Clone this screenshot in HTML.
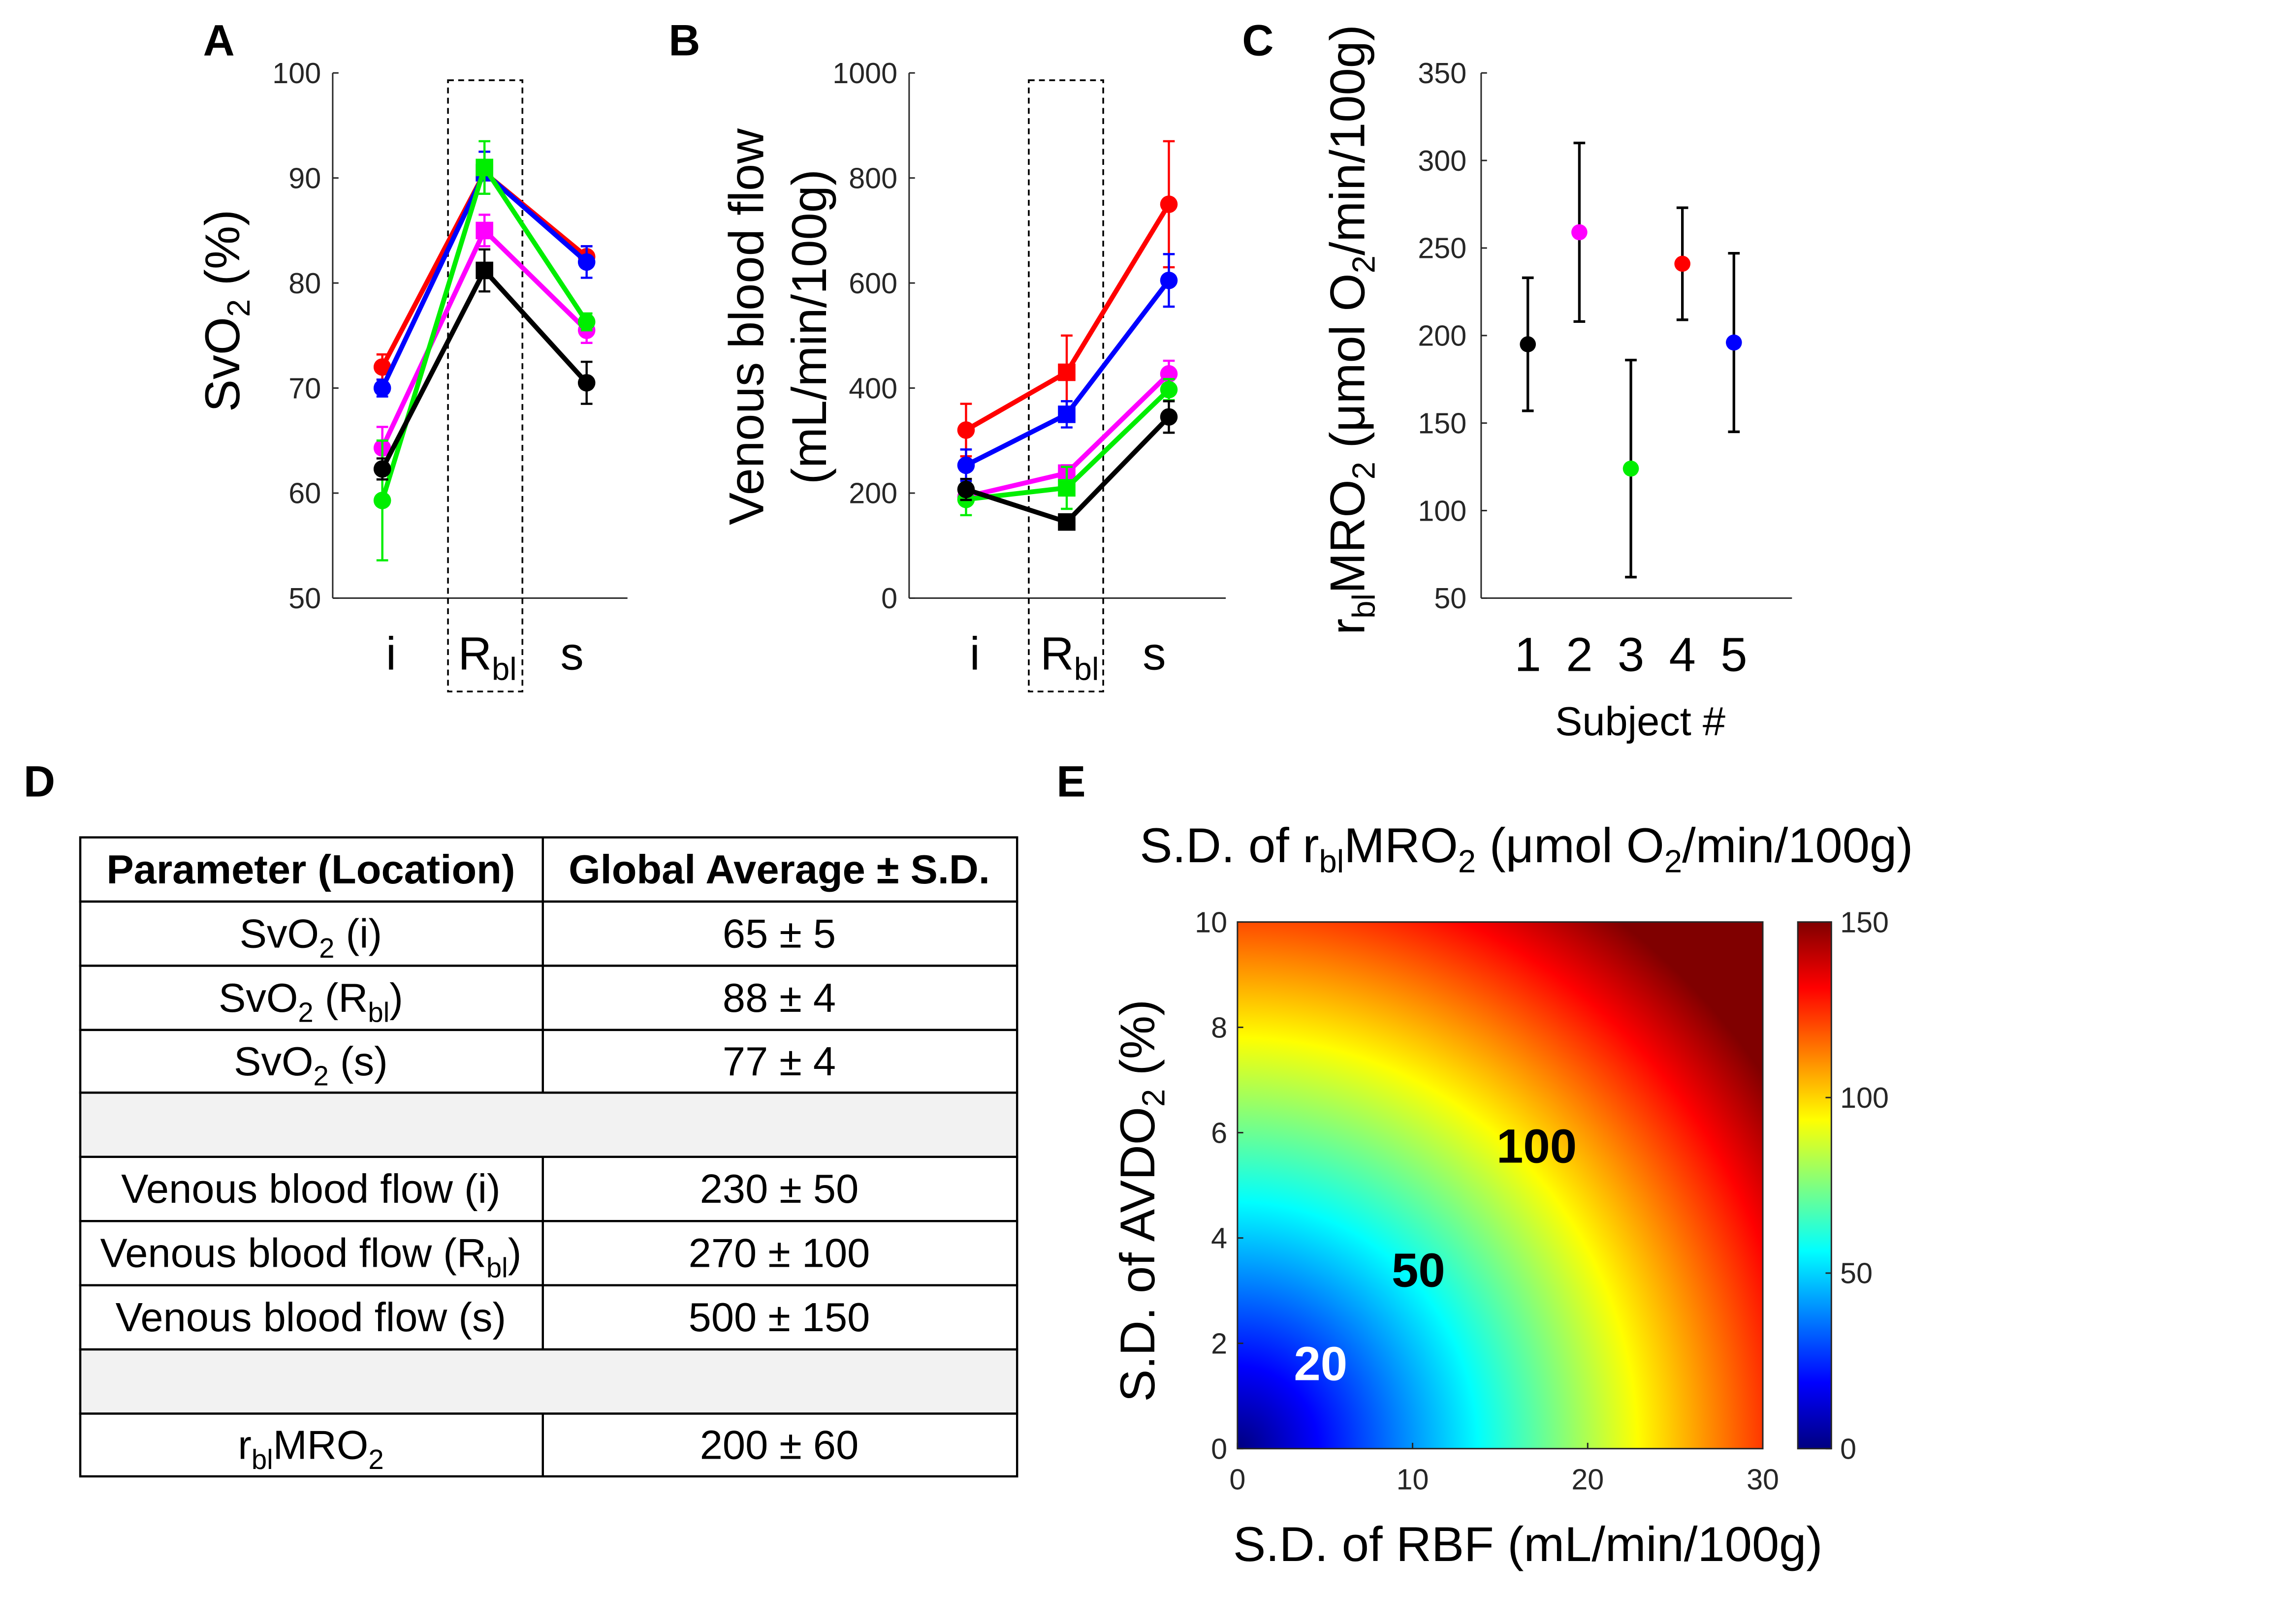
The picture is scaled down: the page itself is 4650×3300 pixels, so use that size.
<!DOCTYPE html>
<html><head><meta charset="utf-8"><style>
html,body{margin:0;padding:0;background:#fff;}
#wrap{position:relative;width:4650px;height:3300px;overflow:hidden;}
#hm{position:absolute;}
#main{position:absolute;left:0;top:0;}
text{font-family:"Liberation Sans",sans-serif;}
</style></head><body>
<div id="wrap">
<canvas id="hm" width="1067" height="1070"></canvas>
<svg id="main" width="4650" height="3300" viewBox="0 0 1568.6 1113.2" xmlns="http://www.w3.org/2000/svg">
<defs>
<linearGradient id="jet" x1="0" y1="1" x2="0" y2="0">
<stop offset="0" stop-color="#000080"/><stop offset="0.125" stop-color="#0000ff"/>
<stop offset="0.375" stop-color="#00ffff"/><stop offset="0.625" stop-color="#ffff00"/>
<stop offset="0.875" stop-color="#ff0000"/><stop offset="1" stop-color="#800000"/>
</linearGradient>
</defs>
<g id="gA"></g>
<g id="gB"></g>
<g id="gC"></g>
<g id="gD"></g>
<g id="gE"></g>
</svg>
</div>
<script>
// ---------- data ----------
const categoriesAB = ["i", "Rbl", "s"];
const seriesColors = ["#ff0000", "#0000ff", "#ff00ff", "#00ee00", "#000000"];
const svo2Red = [72, 90.5, 82.5];     const svo2RedErr = [1.2, 2, 1];
const svo2Blue = [70, 90.5, 82];      const svo2BlueErr = [0.8, 2, 1.5];
const svo2Magenta = [64.3, 85, 75.5]; const svo2MagentaErr = [2, 1.5, 1.2];
const svo2Green = [59.3, 91, 76.3];   const svo2GreenErr = [5.7, 2.5, 0.8];
const svo2Black = [62.3, 81.2, 70.5]; const svo2BlackErr = [1, 2, 2];
const svo2Ticks = [50, 60, 70, 80, 90, 100];
const vbfRed = [320, 430, 750];     const vbfRedErr = [50, 70, 120];
const vbfBlue = [253, 350, 605];    const vbfBlueErr = [30, 25, 50];
const vbfMagenta = [193, 238, 427]; const vbfMagentaErr = [10, 15, 25];
const vbfGreen = [188, 210, 397];   const vbfGreenErr = [30, 40, 20];
const vbfBlack = [207, 145, 345];   const vbfBlackErr = [20, 8, 30];
const vbfTicks = [0, 200, 400, 600, 800, 1000];
const subjects = ["1", "2", "3", "4", "5"];
const mroValues = [195, 259, 124, 241, 196];
const mroErr = [38, 51, 62, 32, 51];
const mroColors = ["#000000", "#ff00ff", "#00ee00", "#ff0000", "#0000ff"];
const mroTicks = [50, 100, 150, 200, 250, 300, 350];
const hmXTicks = [0, 10, 20, 30];
const hmYTicks = [0, 2, 4, 6, 8, 10];
const cbTicks = [0, 50, 100, 150];
const hmCoefRBF = 4.1;   // contribution per unit S.D. RBF
const hmCoefAVDO2 = 12;  // contribution per unit S.D. AVDO2

const SC = 4650/1568.6;
const TICK = 20, LAB = 33.5, SUB = 22;
const NS = "http://www.w3.org/2000/svg";
function mk(parent, tag, attrs, txt){
  const e = document.createElementNS(NS, tag);
  for (const k in attrs) e.setAttribute(k, attrs[k]);
  if (txt !== undefined) e.textContent = txt;
  parent.appendChild(e); return e;
}
function linScale(d0,d1,r0,r1){return v => r0 + (v-d0)/(d1-d0)*(r1-r0);}

// ---------- line panel ----------
function linePanel(g, opt){
  const y = linScale(opt.ymin, opt.ymax, 410, 50);
  const x = i => opt.cx[i];
  const labelShift = [6, 2, -10];
  let e = mk(g,'line',{x1:opt.ax,y1:410,x2:opt.axEnd,y2:410,stroke:'#262626','stroke-width':1});
   
  e = mk(g,'line',{x1:opt.ax,y1:50,x2:opt.ax,y2:410,stroke:'#262626','stroke-width':1});
   
  opt.ticks.forEach(t=>{
    mk(g,'line',{x1:opt.ax,y1:y(t),x2:opt.ax+4,y2:y(t),stroke:'#262626'});
    const tt = mk(g,'text',{x:opt.ax-8,y:y(t)+7,'text-anchor':'end','font-size':TICK,fill:'#262626'},String(t));
     
  });
  e = mk(g,'rect',{x:opt.box[0],y:55,width:opt.box[1]-opt.box[0],height:419,fill:'none',stroke:'#000','stroke-width':1.2,'stroke-dasharray':'4,3'});
   
  categoriesAB.forEach((c,i)=>{
    const t = mk(g,'text',{x:x(i)+labelShift[i],y:459,'text-anchor':'middle','font-size':32,fill:'#000'});
    if (c==='Rbl'){ mk(t,'tspan',{},'R'); mk(t,'tspan',{dy:7,'font-size':SUB},'bl'); }
    else t.textContent = c;
     
  });
  opt.series.forEach((s,si)=>{
    const col = seriesColors[si];
    const sg = mk(g,'g',{});
    
    
    const pts = s.v.map((v,i)=>x(i)+','+y(v)).join(' ');
    mk(sg,'polyline',{points:pts,fill:'none',stroke:col,'stroke-width':3.3});
    s.v.forEach((v,i)=>{
      const e1 = s.e[i];
      mk(sg,'line',{x1:x(i),y1:y(v-e1),x2:x(i),y2:y(v+e1),stroke:col,'stroke-width':1.5});
      mk(sg,'line',{x1:x(i)-4,y1:y(v-e1),x2:x(i)+4,y2:y(v-e1),stroke:col,'stroke-width':1.5});
      mk(sg,'line',{x1:x(i)-4,y1:y(v+e1),x2:x(i)+4,y2:y(v+e1),stroke:col,'stroke-width':1.5});
      let m;
      if (i===1) m = mk(sg,'rect',{x:x(i)-6,y:y(v)-6,width:12,height:12,fill:col});
      else m = mk(sg,'circle',{cx:x(i),cy:y(v),r:6,fill:col});
       
    });
  });
}
const gA = document.getElementById('gA');
linePanel(gA,{ymin:50,ymax:100,ax:228,axEnd:430,cx:[262,332,402],box:[307,358],ticks:svo2Ticks,
  series:[{v:svo2Red,e:svo2RedErr},{v:svo2Blue,e:svo2BlueErr},{v:svo2Magenta,e:svo2MagentaErr},{v:svo2Green,e:svo2GreenErr},{v:svo2Black,e:svo2BlackErr}]});
const gB = document.getElementById('gB');
linePanel(gB,{ymin:0,ymax:1000,ax:623,axEnd:840,cx:[662,731,801],box:[705,756],ticks:vbfTicks,
  series:[{v:vbfRed,e:vbfRedErr},{v:vbfBlue,e:vbfBlueErr},{v:vbfMagenta,e:vbfMagentaErr},{v:vbfGreen,e:vbfGreenErr},{v:vbfBlack,e:vbfBlackErr}]});

function label(g,txt,x,y,name){const t=mk(g,'text',{x:x,y:y,'font-size':30,'font-weight':'bold','text-anchor':'middle'},txt);
   }
label(gA,'A',150,38,'panel-label-a'); label(gB,'B',469,38,'panel-label-b');
label(gB,'C',862,38,'panel-label-c'); label(gB,'D',27,546,'panel-label-d'); label(gB,'E',734,546,'panel-label-e');

let t = mk(gA,'text',{transform:'translate(164,213) rotate(-90)','text-anchor':'middle','font-size':LAB});
mk(t,'tspan',{},'SvO'); mk(t,'tspan',{dy:7,'font-size':SUB},'2'); mk(t,'tspan',{dy:-7},' (%)');
 
t = mk(gB,'text',{transform:'translate(523,224) rotate(-90)','text-anchor':'middle','font-size':LAB},'Venous blood flow');
 
t = mk(gB,'text',{transform:'translate(566,224) rotate(-90)','text-anchor':'middle','font-size':LAB},'(mL/min/100g)');
 

// ---------- panel C ----------
(function(){
  const g = document.getElementById('gC');
  const y = linScale(50,350,410,50);
  const xs = i => 1047 + i*35.3;
  let e = mk(g,'line',{x1:1015,y1:410,x2:1228,y2:410,stroke:'#262626'});
   
  e = mk(g,'line',{x1:1015,y1:50,x2:1015,y2:410,stroke:'#262626'});
   
  mroTicks.forEach(v=>{
    mk(g,'line',{x1:1015,y1:y(v),x2:1019,y2:y(v),stroke:'#262626'});
    const tt = mk(g,'text',{x:1005,y:y(v)+7,'text-anchor':'end','font-size':TICK,fill:'#262626'},String(v));
     
  });
  subjects.forEach((s,i)=>{
    const tt = mk(g,'text',{x:xs(i),y:460,'text-anchor':'middle','font-size':33},s);
     
    const v = mroValues[i], er = mroErr[i];
    mk(g,'line',{x1:xs(i),y1:y(v-er),x2:xs(i),y2:y(v+er),stroke:'#000','stroke-width':1.8});
    mk(g,'line',{x1:xs(i)-4,y1:y(v-er),x2:xs(i)+4,y2:y(v-er),stroke:'#000','stroke-width':1.8});
    mk(g,'line',{x1:xs(i)-4,y1:y(v+er),x2:xs(i)+4,y2:y(v+er),stroke:'#000','stroke-width':1.8});
    const c = mk(g,'circle',{cx:xs(i),cy:y(v),r:5.5,fill:mroColors[i]});
     
  });
  let tt = mk(g,'text',{x:1124,y:504,'text-anchor':'middle','font-size':28},'Subject #');
   
  tt = mk(g,'text',{transform:'translate(935,226) rotate(-90)','text-anchor':'middle','font-size':LAB});
  mk(tt,'tspan',{},'r'); mk(tt,'tspan',{dy:7,'font-size':SUB},'bl'); mk(tt,'tspan',{dy:-7},'MRO');
  mk(tt,'tspan',{dy:7,'font-size':SUB},'2'); mk(tt,'tspan',{dy:-7},' (μmol O');
  mk(tt,'tspan',{dy:7,'font-size':SUB},'2'); mk(tt,'tspan',{dy:-7},'/min/100g)');
   
})();

// ---------- panel D table ----------
(function(){
  const g = document.getElementById('gD');
  const rowsY = [574,618,662,706,749,793,837,881,925,969,1012];
  const rows = [
    [['Parameter (Location)'],['Global Average ± S.D.'],'h'],
    [['SvO','_2',' (i)'],['65 ± 5']],
    [['SvO','_2',' (R','_bl',')'],['88 ± 4']],
    [['SvO','_2',' (s)'],['77 ± 4']],
    null,
    [['Venous blood flow (i)'],['230 ± 50']],
    [['Venous blood flow (R','_bl',')'],['270 ± 100']],
    [['Venous blood flow (s)'],['500 ± 150']],
    null,
    [['r','_bl','MRO','_2'],['200 ± 60']]
  ];
  rows.forEach((r,i)=>{
    const y0 = rowsY[i], y1 = rowsY[i+1];
    const rect = mk(g,'rect',{x:55,y:y0,width:642,height:y1-y0,fill:r===null?'#f2f2f2':'#fff',stroke:'#000','stroke-width':1.5});
     
    if (r===null) return;
    mk(g,'line',{x1:372,y1:y0,x2:372,y2:y1,stroke:'#000','stroke-width':1.5});
    const bold = r[2]==='h';
    [[r[0],213],[r[1],534]].forEach(([parts,cx])=>{
      const tt = mk(g,'text',{x:cx,y:(y0+y1)/2+9.5,'text-anchor':'middle','font-size':28,'font-weight':bold?'bold':'normal'});
      let sub=false;
      parts.forEach(p=>{
        if (p.startsWith('_')){ mk(tt,'tspan',{dy:7,'font-size':19},p.slice(1)); sub=true; }
        else { mk(tt,'tspan',sub?{dy:-7}:{},p); sub=false; }
      });
       
    });
  });
})();

// ---------- panel E heatmap ----------
function jet(v){
  function f(x){return Math.max(0,Math.min(1,x));}
  const r = f(Math.min(4*v-1.5, -4*v+4.5));
  const gg = f(Math.min(4*v-0.5, -4*v+3.5));
  const b = f(Math.min(4*v+0.5, -4*v+2.5));
  return [r*255,gg*255,b*255];
}
(function(){
  const cv = document.getElementById('hm');
  const W = Math.round(360*SC), H = Math.round(361*SC);
  cv.width = W; cv.height = H;
  cv.style.left = Math.round(848*SC)+'px'; cv.style.top = Math.round(632*SC)+'px';
  cv.style.width = W+'px'; cv.style.height = H+'px';
  const ctx = cv.getContext('2d');
  const img = ctx.createImageData(W,H);
  for (let py=0; py<H; py++){
    const a = (1 - py/(H-1))*hmYTicks[hmYTicks.length-1];
    for (let px=0; px<W; px++){
      const r = px/(W-1)*hmXTicks[hmXTicks.length-1];
      const val = Math.sqrt((hmCoefRBF*r)**2 + (hmCoefAVDO2*a)**2);
      const c = jet(Math.min(1,val/cbTicks[cbTicks.length-1]));
      const k = (py*W+px)*4;
      img.data[k]=c[0]; img.data[k+1]=c[1]; img.data[k+2]=c[2]; img.data[k+3]=255;
    }
  }
  ctx.putImageData(img,0,0);

  const g = document.getElementById('gE');
  const x = linScale(0,30,848,1208), y = linScale(0,10,993,632);
  let e = mk(g,'rect',{x:848,y:632,width:360,height:361,fill:'none',stroke:'#262626'});
   
  hmXTicks.forEach(v=>{
    mk(g,'line',{x1:x(v),y1:993,x2:x(v),y2:989,stroke:'#262626'});
    const tt = mk(g,'text',{x:x(v),y:1021,'text-anchor':'middle','font-size':TICK,fill:'#262626'},String(v));
     
  });
  hmYTicks.forEach(v=>{
    mk(g,'line',{x1:848,y1:y(v),x2:852,y2:y(v),stroke:'#262626'});
    const tt = mk(g,'text',{x:841,y:y(v)+7,'text-anchor':'end','font-size':TICK,fill:'#262626'},String(v));
     
  });
  e = mk(g,'rect',{x:1232,y:632,width:23,height:361,fill:'url(#jet)',stroke:'#262626'});
   
  const cy = linScale(0,150,993,632);
  cbTicks.forEach(v=>{
    mk(g,'line',{x1:1251,y1:cy(v),x2:1255,y2:cy(v),stroke:'#262626'});
    const tt = mk(g,'text',{x:1261,y:cy(v)+7,'font-size':TICK,fill:'#262626'},String(v));
     
  });
  [['100',1053,797,'#000'],['50',972,882,'#000'],['20',905,946,'#fff']].forEach(a=>{
    const tt = mk(g,'text',{x:a[1],y:a[2],'text-anchor':'middle','font-size':33,'font-weight':'bold',fill:a[3]},a[0]);
     
  });
  let tt = mk(g,'text',{x:1046,y:591,'text-anchor':'middle','font-size':LAB});
  mk(tt,'tspan',{},'S.D. of r'); mk(tt,'tspan',{dy:7,'font-size':SUB},'bl'); mk(tt,'tspan',{dy:-7},'MRO');
  mk(tt,'tspan',{dy:7,'font-size':SUB},'2'); mk(tt,'tspan',{dy:-7},' (μmol O');
  mk(tt,'tspan',{dy:7,'font-size':SUB},'2'); mk(tt,'tspan',{dy:-7},'/min/100g)');
   
  tt = mk(g,'text',{x:1047,y:1070,'text-anchor':'middle','font-size':LAB},'S.D. of RBF (mL/min/100g)');
   
  tt = mk(g,'text',{transform:'translate(791,823) rotate(-90)','text-anchor':'middle','font-size':LAB});
  mk(tt,'tspan',{},'S.D. of AVDO'); mk(tt,'tspan',{dy:7,'font-size':SUB},'2'); mk(tt,'tspan',{dy:-7},' (%)');
   
})();
</script>
</body></html>
